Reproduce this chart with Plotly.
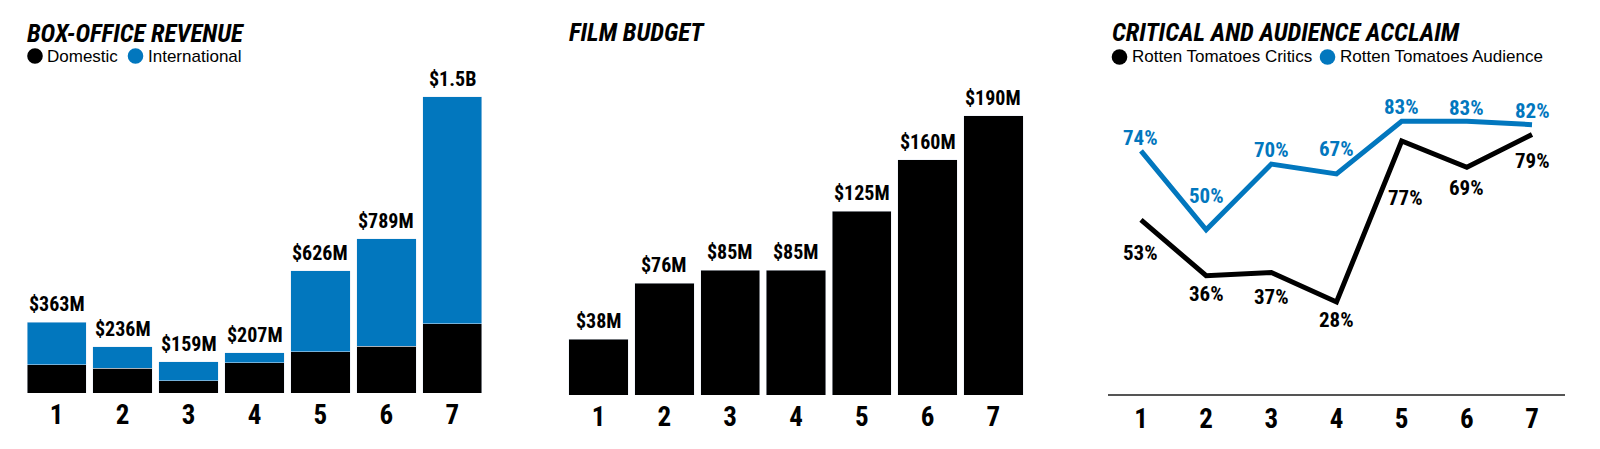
import plotly.graph_objects as go

# ---------------- data ----------------
films = ["1", "2", "3", "4", "5", "6", "7"]
domestic = [144, 127, 62, 155, 210, 239, 353]          # $M
total_gross = [363, 236, 159, 207, 626, 789, 1516]     # $M
international = [t - d for t, d in zip(total_gross, domestic)]
budget = [38, 76, 85, 85, 125, 160, 190]               # $M
critics = [53, 36, 37, 28, 77, 69, 79]                 # %
audience = [74, 50, 70, 67, 83, 83, 82]                # %
revenue_series = ["Domestic", "International"]
score_series = ["Rotten Tomatoes Critics", "Rotten Tomatoes Audience"]
titles = ["BOX-OFFICE REVENUE", "FILM BUDGET", "CRITICAL AND AUDIENCE ACCLAIM"]

# ---------------- style ----------------
W, H = 1600, 449
BLACK = "#000000"
BLUE = "#0277BE"
COND = "Roboto Condensed, Liberation Sans Narrow, DejaVu Sans Condensed, Arial Narrow, sans-serif"
SANS = "Liberation Sans, Arial, sans-serif"
aud_shift = [13, 34, 14, 25, 14, 13, 14]
crit_shift = [-33, -18, -25, -18, -57, -21, -27]
crit_xshift = [0, 0, 0, 0, 4, 0, 0]


def px(x):
    return x / W


def py(y):
    return 1 - y / H


def money(v):
    return f"${v / 1000:.1f}B" if v >= 1000 else f"${v}M"


fig = go.Figure()

# Panel 1: stacked revenue bars
fig.add_trace(go.Bar(x=films, y=domestic, name=revenue_series[0], marker_color=BLACK,
                     xaxis="x", yaxis="y", showlegend=False))
fig.add_trace(go.Bar(x=films, y=international, name=revenue_series[1], marker_color=BLUE,
                     xaxis="x", yaxis="y", showlegend=False))
# Panel 2: budget bars
fig.add_trace(go.Bar(x=films, y=budget, name="Budget", marker_color=BLACK,
                     xaxis="x2", yaxis="y2", showlegend=False))
# Panel 3: lines
fig.add_trace(go.Scatter(x=films, y=audience, name=score_series[1], mode="lines",
                         line=dict(color=BLUE, width=5), xaxis="x3", yaxis="y3", showlegend=False))
fig.add_trace(go.Scatter(x=films, y=critics, name=score_series[0], mode="lines",
                         line=dict(color=BLACK, width=5), xaxis="x3", yaxis="y3", showlegend=False))

tickfont = dict(family=COND, size=27, color=BLACK, weight="bold")
xcommon = dict(type="category", range=[-0.5, 6.5], showgrid=False, zeroline=False,
               tickfont=tickfont, ticks="", fixedrange=True)
ycommon = dict(visible=False, showgrid=False, zeroline=False, fixedrange=True)

fig.update_layout(
    width=W, height=H,
    margin=dict(l=0, r=0, t=0, b=0),
    paper_bgcolor="white", plot_bgcolor="white",
    barmode="stack", bargap=0.1,
    xaxis=dict(domain=[px(23.7), px(485.3)], anchor="y", showline=False,
               ticklabelstandoff=3, **xcommon),
    yaxis=dict(domain=[py(393), py(80)], range=[0, 313 / 0.1955], anchor="x", **ycommon),
    xaxis2=dict(domain=[px(565.7), px(1026.3)], anchor="y2", showline=False,
                ticklabelstandoff=3, **xcommon),
    yaxis2=dict(domain=[py(395), py(80)], range=[0, 315 / 1.47], anchor="x2", **ycommon),
    xaxis3=dict(domain=[px(1108.4), px(1564.6)], anchor="y3", showline=True,
                linecolor="#555555", linewidth=1.5, ticklabelstandoff=0, **xcommon),
    yaxis3=dict(domain=[py(394), py(80)], range=[0, 314 / 3.285], anchor="x3", **ycommon),
)

ann = []
shapes = []
titlefont = dict(family=COND, size=25, color=BLACK, weight="bold", style="italic")
for t, (x0, yc) in zip(titles, [(27, 33.5), (569, 32.5), (1112, 32.5)]):
    ann.append(dict(text=t, x=px(x0), y=py(yc), xref="paper", yref="paper",
                    xanchor="left", yanchor="middle", showarrow=False, font=titlefont,
                    xshift=-2))

# legends
legfont = dict(family=SANS, size=17, color=BLACK)
legend_items = [
    (revenue_series[0], BLACK, 35, 56), (revenue_series[1], BLUE, 135.5, 56),
    (score_series[0], BLACK, 1119.5, 57), (score_series[1], BLUE, 1327.5, 57),
]
r = 7.8
for name, col, cx, cy in legend_items:
    shapes.append(dict(type="circle", xref="paper", yref="paper",
                       x0=px(cx - r), x1=px(cx + r), y0=py(cy + r), y1=py(cy - r),
                       fillcolor=col, line=dict(width=0)))
    ann.append(dict(text=name, x=px(cx + r + 2.5), y=py(cy), xref="paper", yref="paper",
                    xanchor="left", yanchor="middle", showarrow=False, font=legfont))

labfont = dict(family=COND, size=20, color=BLACK, weight="bold")
pctfont = dict(family=COND, size=21, color=BLACK, weight="bold")
for i, v in enumerate(total_gross):
    ann.append(dict(text=money(v), x=i, y=v, xref="x", yref="y", yanchor="middle",
                    yshift=18, showarrow=False, font=labfont))
for i, v in enumerate(budget):
    ann.append(dict(text=money(v), x=i, y=v, xref="x2", yref="y2", yanchor="middle",
                    yshift=18, showarrow=False, font=labfont))
for i, (v, s) in enumerate(zip(audience, aud_shift)):
    ann.append(dict(text=f"{v}%", x=i, y=v, xref="x3", yref="y3", yanchor="middle",
                    yshift=s, showarrow=False, font=dict(pctfont, color=BLUE)))
for i, (v, s, xs) in enumerate(zip(critics, crit_shift, crit_xshift)):
    ann.append(dict(text=f"{v}%", x=i, y=v, xref="x3", yref="y3", yanchor="middle",
                    yshift=s, xshift=xs, showarrow=False, font=pctfont))

fig.update_layout(annotations=ann, shapes=shapes)
fig.write_html("out.html")
